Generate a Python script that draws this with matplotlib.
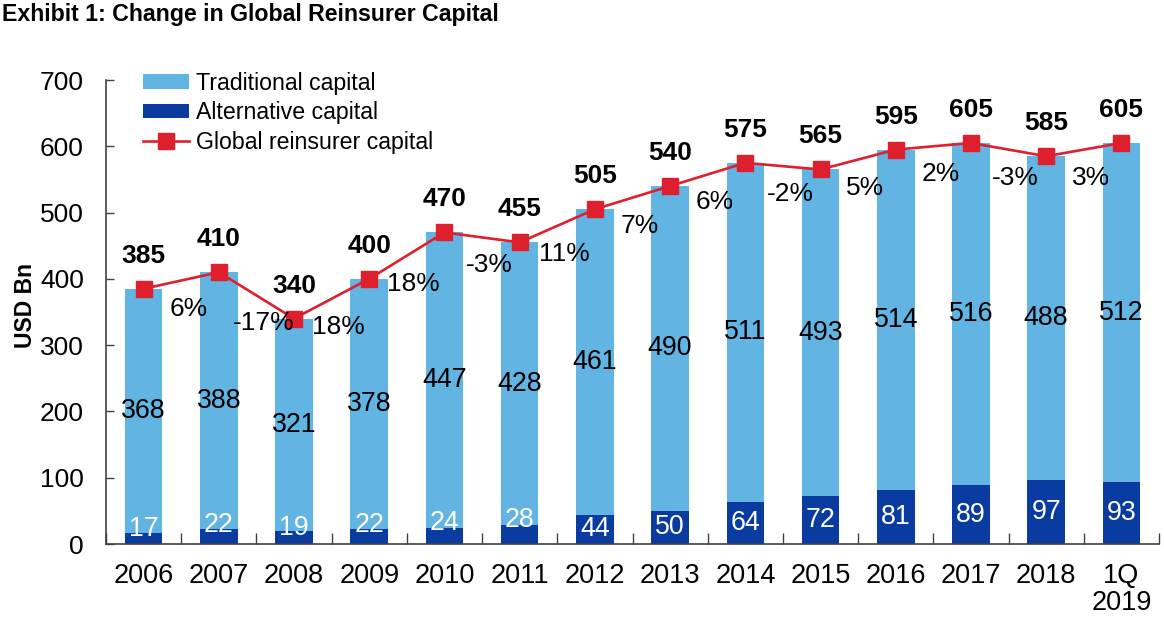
import matplotlib
matplotlib.use("Agg")
import matplotlib.pyplot as plt
from matplotlib.patches import Patch
from matplotlib.lines import Line2D
import numpy as np

plt.rcParams['font.family'] = ['Liberation Sans', 'DejaVu Sans']

categories = ['2006', '2007', '2008', '2009', '2010', '2011', '2012', '2013',
              '2014', '2015', '2016', '2017', '2018', '1Q\n2019']
traditional = [368, 388, 321, 378, 447, 428, 461, 490, 511, 493, 514, 516, 488, 512]
alternative = [17, 22, 19, 22, 24, 28, 44, 50, 64, 72, 81, 89, 97, 93]
total = [385, 410, 340, 400, 470, 455, 505, 540, 575, 565, 595, 605, 585, 605]
pct_change = ['', '6%', '-17%', '18%', '18%', '-3%', '11%', '7%', '6%', '-2%',
              '5%', '2%', '-3%', '3%']

C_TRAD = '#62b5e2'
C_ALT = '#0a3ba0'
C_RED = '#de1f2d'

fig = plt.figure(figsize=(11.64, 6.24), dpi=100)
ax = fig.add_axes([106/1164, 1-544/624, (1159-106)/1164, (544-80)/624])

x = np.arange(len(categories))
w = 0.5
ax.bar(x, alternative, width=w, color=C_ALT, zorder=2)
ax.bar(x, traditional, width=w, bottom=alternative, color=C_TRAD, zorder=2)
ax.plot(x, total, color=C_RED, lw=1.9, marker='s', markersize=11,
        markerfacecolor=C_RED, markeredgecolor=C_RED, zorder=4)

FS = 19.3
for i in range(len(x)):
    a = alternative[i]
    t = traditional[i]
    ya = a / 2 if a >= 40 else a * 1.3
    ax.text(x[i], ya, str(a), ha='center', va='center', color='white', fontsize=FS, zorder=5)
    ax.text(x[i], a + t / 2, str(t), ha='center', va='center', color='black', fontsize=FS, zorder=5)
    ax.annotate(str(total[i]), (x[i], total[i]), xytext=(0, 33), textcoords='offset pixels',
                ha='center', va='center', fontsize=19, fontweight='bold', zorder=5)
    if pct_change[i]:
        mx = (x[i] + x[i-1]) / 2
        my = (total[i] + total[i-1]) / 2
        ax.annotate(pct_change[i], (mx, my), xytext=(7, -28), textcoords='offset pixels',
                    ha='center', va='center', fontsize=19, zorder=5)

ax.set_xlim(-0.5, len(categories) - 0.5)
ax.set_ylim(0, 700)
ax.set_yticks(np.arange(0, 701, 100))
ax.set_xticks(x)
ax.set_xticklabels(categories, fontsize=19.5, linespacing=1.05)
ax.set_xticks(np.arange(-0.5, len(categories), 1.0), minor=True)
ax.tick_params(axis='x', which='major', length=0, pad=14)
ax.tick_params(axis='x', which='minor', direction='in', length=8, width=1, color='#404040')
ax.tick_params(axis='y', direction='in', length=6, width=1, color='#404040', pad=16, labelsize=19)
for s in ['top', 'right']:
    ax.spines[s].set_visible(False)
for s in ['left', 'bottom']:
    ax.spines[s].set_color('#404040')
    ax.spines[s].set_linewidth(1.2)

handles = [Patch(facecolor=C_TRAD, edgecolor='none'),
           Patch(facecolor=C_ALT, edgecolor='none'),
           Line2D([0], [0], color=C_RED, lw=1.9, marker='s', markersize=11)]
labels = ['Traditional capital', 'Alternative capital', 'Global reinsurer capital']
fig.legend(handles, labels, loc='upper left', bbox_to_anchor=(143/1164, 1-72/624),
           frameon=False, fontsize=16.7, handlelength=2.0, handleheight=0.6,
           handletextpad=0.3, labelspacing=0.27, borderpad=0, borderaxespad=0)

fig.text(25/1164, 1-305/624, 'USD Bn', rotation=90, ha='center', va='center',
         fontsize=16.5, fontweight='bold')
fig.text(2/1164, 1-15/624, 'Exhibit 1: Change in Global Reinsurer Capital',
         ha='left', va='center', fontsize=16.7, fontweight='bold')

fig.savefig('out.png', dpi=100)
